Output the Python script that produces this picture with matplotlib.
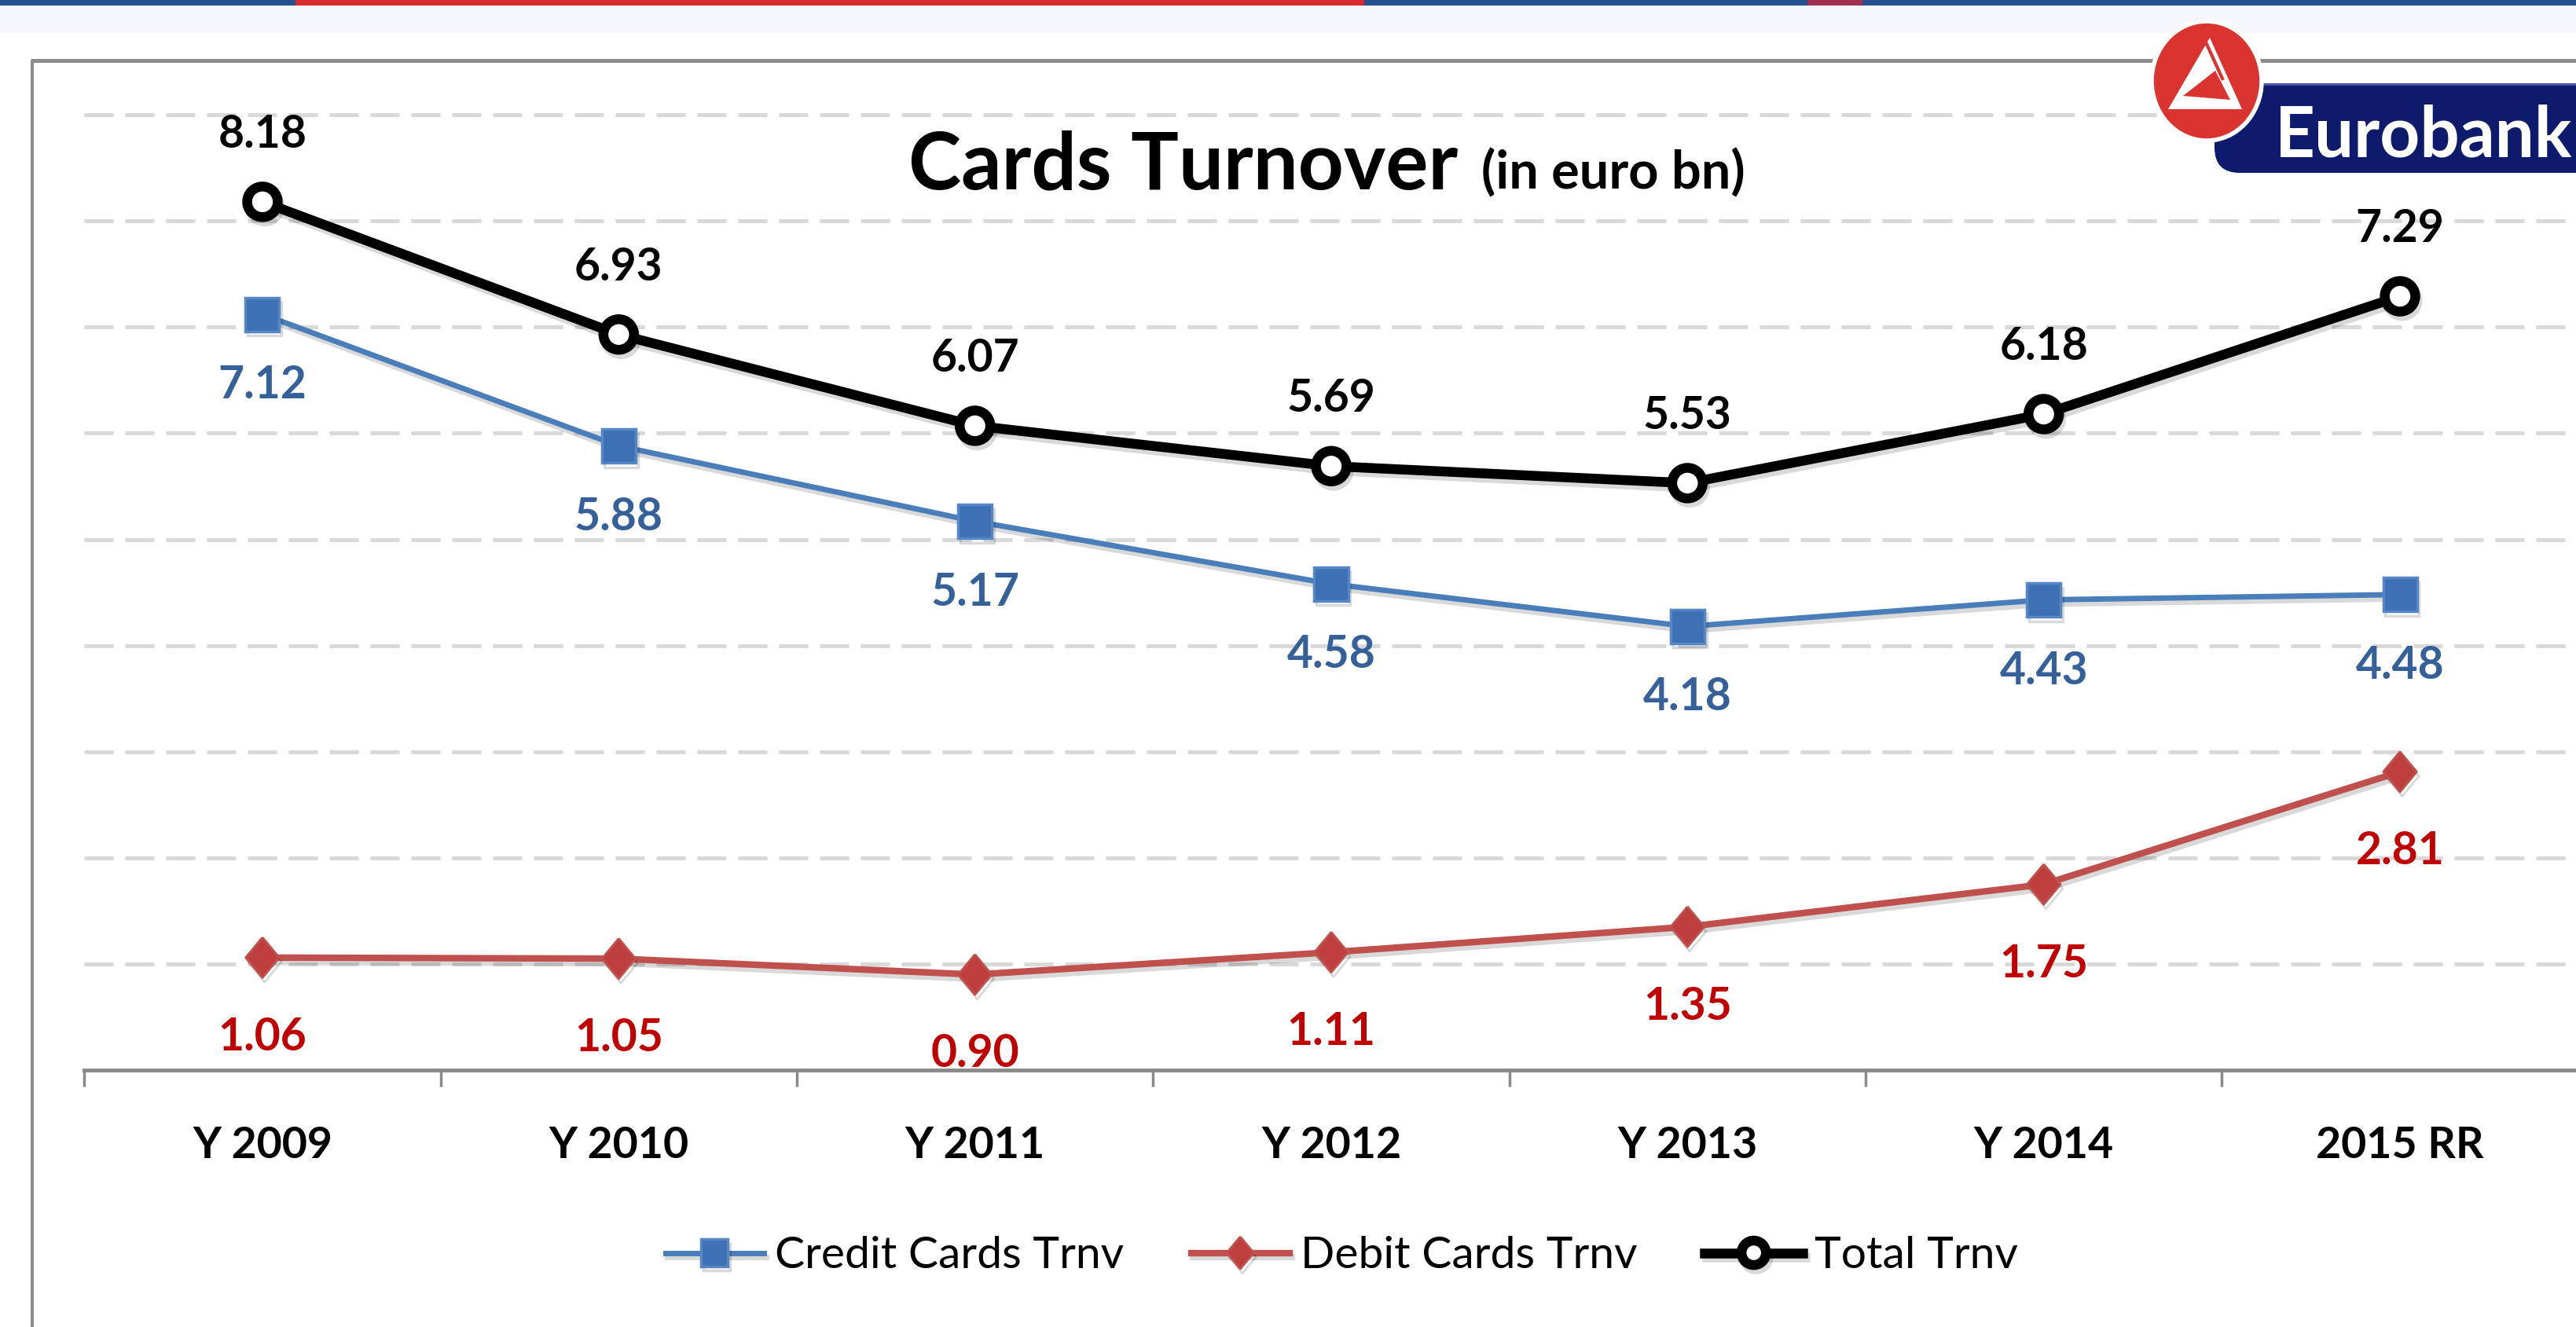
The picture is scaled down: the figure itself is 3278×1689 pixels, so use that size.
import matplotlib
matplotlib.use('Agg')
import matplotlib.pyplot as plt
from matplotlib.patches import Ellipse, Polygon, FancyBboxPatch, Rectangle
import matplotlib.patheffects as pe

# ---------------- data ----------------
categories = ['Y 2009', 'Y 2010', 'Y 2011', 'Y 2012', 'Y 2013', 'Y 2014', '2015 RR']
credit = [7.12, 5.88, 5.17, 4.58, 4.18, 4.43, 4.48]
debit = [1.06, 1.05, 0.90, 1.11, 1.35, 1.75, 2.81]
total = [8.18, 6.93, 6.07, 5.69, 5.53, 6.18, 7.29]
series_names = ['Credit Cards Trnv', 'Debit Cards Trnv', 'Total Trnv']
title_main = 'Cards Turnover'
title_sub = '(in euro bn)'
brand = 'Eurobank'
grid_values = [1, 2, 3, 4, 5, 6, 7, 8, 9]

plt.rcParams['font.family'] = ['Lato', 'DejaVu Sans']

W, H = 3278, 1689
fig = plt.figure(figsize=(W / 100, H / 100), dpi=100)
fig.patch.set_facecolor('white')

# ---------------- main axes ----------------
px_per_unit = 135.1
y_top = 9.05
x0_px, x1_px = 107.3, 3280.7
base_px = 1362
ax = fig.add_axes([x0_px / W, (H - base_px) / H, (x1_px - x0_px) / W,
                   y_top * px_per_unit / H])
ax.set_facecolor('none')
xs = list(range(len(categories)))
ax.set_xlim(-0.5, len(categories) - 0.5)
ax.set_ylim(0, y_top)

ax.set_yticks(grid_values)
ax.yaxis.grid(True, color='#D9D9D9', linewidth=3.6, linestyle=(0, (7.4, 3.0)), zorder=0)
ax.set_axisbelow(True)
ax.tick_params(axis='y', length=0, labelleft=False)

for s in ['top', 'left', 'right']:
    ax.spines[s].set_visible(False)
ax.spines['bottom'].set_color('#898989')
ax.spines['bottom'].set_linewidth(3.5)

ax.set_xticks(xs)
ax.set_xticklabels(categories, fontsize=40, fontweight='bold', color='black')
ax.set_xticks([i - 0.5 for i in range(len(categories) + 1)], minor=True)
ax.tick_params(axis='x', which='major', length=0, pad=51)
ax.tick_params(axis='x', which='minor', length=15, width=2.5, color='#898989', direction='out')

shadow = [pe.SimpleLineShadow(offset=(2, -4), shadow_color='black', alpha=0.15), pe.Normal()]

diamond = [(0, 1), (0.83, 0), (0, -1), (-0.83, 0), (0, 1)]
l_credit, = ax.plot(xs, credit, color='#4A7EBB', lw=5, marker='s', ms=31,
                    mfc='#3D70B5', mec='#5587C4', mew=2.5, zorder=4,
                    path_effects=shadow, solid_joinstyle='round')
l_debit, = ax.plot(xs, debit, color='#C0504D', lw=6, marker=diamond, ms=37,
                   mfc='#BE3F3D', mec='#C0504D', mew=2, zorder=4,
                   path_effects=shadow, solid_joinstyle='round')
l_total, = ax.plot(xs, total, color='black', lw=9, marker='o', ms=28,
                   mfc='white', mec='black', mew=9, zorder=5,
                   path_effects=shadow, solid_joinstyle='round')
for ln in (l_credit, l_debit, l_total):
    ln.set_clip_on(False)

for xi, v in zip(xs, total):
    ax.annotate(f'{v:.2f}', (xi, v), xytext=(0, 69), textcoords='offset pixels',
                ha='center', va='baseline', fontsize=41, fontweight='bold',
                color='black', zorder=6)
for xi, v in zip(xs, credit):
    ax.annotate(f'{v:.2f}', (xi, v), xytext=(0, -107), textcoords='offset pixels',
                ha='center', va='baseline', fontsize=41, fontweight='bold',
                color='#36609A', zorder=6)
for xi, v in zip(xs, debit):
    ax.annotate(f'{v:.2f}', (xi, v), xytext=(0, -118), textcoords='offset pixels',
                ha='center', va='baseline', fontsize=41, fontweight='bold',
                color='#C00000', zorder=6)

# ---------------- legend ----------------
fig.legend([l_credit, l_debit, l_total], series_names, loc='center',
           bbox_to_anchor=(1707 / W, 1 - 1599 / H), ncol=3, frameon=False,
           fontsize=41, handlelength=2.2, handletextpad=0.25,
           columnspacing=1.5, markerscale=0.8)

# ---------------- overlay (frame, title, logo) ----------------
ov = fig.add_axes([0, 0, 1, 1], zorder=10)
ov.set_xlim(0, W)
ov.set_ylim(H, 0)
ov.axis('off')

# top slide strip
ov.add_patch(Rectangle((0, 0), W, 7, color='#24508F', lw=0))
ov.add_patch(Rectangle((376, 0), 1360, 7, color='#D62A2F', lw=0))
ov.add_patch(Rectangle((2300, 0), 70, 7, color='#A0304F', lw=0))
ov.add_patch(Rectangle((0, 7), W, 35, color='#F6F7FB', lw=0, zorder=0))

# gray frame
ov.plot([41, 41], [77, H], color='#8C8C8C', lw=3, solid_capstyle='butt')
ov.plot([39, W], [77, 77], color='#8C8C8C', lw=3.6, solid_capstyle='butt')

# title
renderer = fig.canvas.get_renderer()
t1 = ov.text(1156, 240, title_main, fontsize=73, fontweight='bold', color='black',
             ha='left', va='baseline')
bb = t1.get_window_extent(renderer=renderer)
ov.text(bb.x1 + 30, 240, title_sub, fontsize=48, fontweight='bold', color='black',
        ha='left', va='baseline')

# logo
ov.add_patch(FancyBboxPatch((2818, 106), 520, 114,
                            boxstyle='round,pad=0,rounding_size=32',
                            facecolor='#0E1A6C', edgecolor='none', zorder=2))
ov.plot([2850, W], [107, 107], color='#4A5CB0', lw=2, zorder=2)
ov.add_patch(Ellipse((2808, 103), 140, 152, facecolor='#DA3330',
                     edgecolor='white', lw=4, zorder=3))
ov.add_patch(Polygon([(2812, 48), (2853, 139), (2759, 139)], closed=True,
                     facecolor='white', edgecolor='none', zorder=4))
ov.add_patch(Polygon([(2819, 90), (2838, 127), (2778, 122)], closed=True,
                     facecolor='#DA3330', edgecolor='none', zorder=5))
ov.plot([2808, 2828], [56, 100], color='#DA3330', lw=3, zorder=5)
ov.text(2895, 199, brand, fontsize=64, fontweight='bold', color='white',
        ha='left', va='baseline', zorder=6)

fig.savefig('out.png', dpi=100, facecolor='white')
